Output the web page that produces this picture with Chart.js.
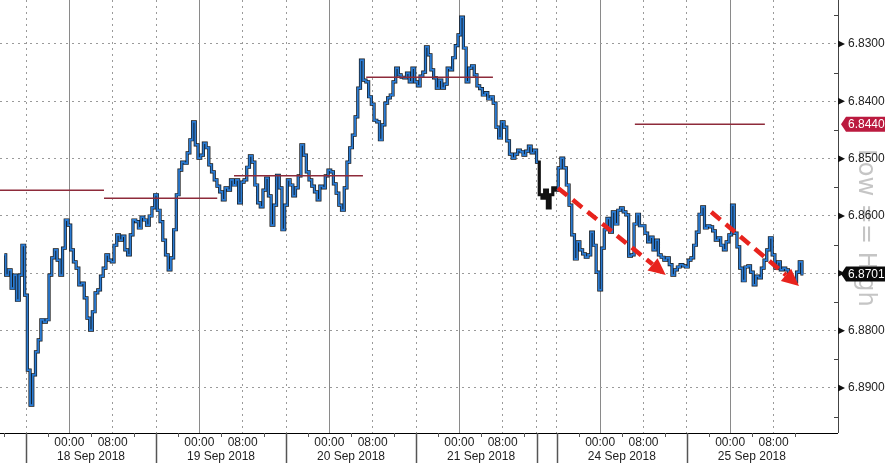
<!DOCTYPE html>
<html>
<head>
<meta charset="utf-8">
<script src="https://cdn.jsdelivr.net/npm/chart.js@4.4.0/dist/chart.umd.min.js"></script>
<style>
  html, body { margin: 0; padding: 0; background: #fff; }
</style>
</head>
<body>
<canvas id="myChart" width="890" height="468"></canvas>
<script>
// USD/CNH intraday, one price every 30 min of trading time
// x is hours of trading time, 0 = session open of 18 Sep (16:00 the day before)
const startHour = -4;
const stepHours = 0.5;
const prices = [
  6.8668, 6.8703, 6.8694, 6.8726, 6.8703, 6.8747, 6.8703, 6.8651, 6.8738, 6.8869,
  6.8930, 6.8877, 6.8837, 6.8816, 6.8781, 6.8785, 6.8781, 6.8703, 6.8673, 6.8659,
  6.8677, 6.8703, 6.8656, 6.8607, 6.8616, 6.8659, 6.8680, 6.8691, 6.8720, 6.8717,
  6.8743, 6.8778, 6.8799, 6.8767, 6.8734, 6.8729, 6.8705, 6.8691, 6.8668, 6.8677,
  6.8680, 6.8651, 6.8633, 6.8642, 6.8635, 6.8659, 6.8668, 6.8633, 6.8607, 6.8610,
  6.8621, 6.8602, 6.8607, 6.8616, 6.8600, 6.8586, 6.8563, 6.8590, 6.8610, 6.8642,
  6.8668, 6.8694, 6.8673, 6.8624, 6.8563, 6.8520, 6.8506, 6.8508, 6.8490, 6.8467,
  6.8436, 6.8476, 6.8499, 6.8494, 6.8473, 6.8481, 6.8511, 6.8523, 6.8537, 6.8548,
  6.8558, 6.8572, 6.8551, 6.8555, 6.8537, 6.8546, 6.8537, 6.8577, 6.8541, 6.8537,
  6.8515, 6.8495, 6.8506, 6.8546, 6.8577, 6.8584, 6.8555, 6.8534, 6.8565, 6.8616,
  6.8581, 6.8529, 6.8551, 6.8624, 6.8581, 6.8537, 6.8546, 6.8565, 6.8551, 6.8530,
  6.8476, 6.8494, 6.8523, 6.8537, 6.8548, 6.8558, 6.8572, 6.8548, 6.8551, 6.8530,
  6.8520, 6.8523, 6.8544, 6.8560, 6.8581, 6.8590, 6.8551, 6.8506, 6.8481, 6.8459,
  6.8427, 6.8377, 6.8328, 6.8363, 6.8366, 6.8392, 6.8405, 6.8433, 6.8436, 6.8467,
  6.8441, 6.8403, 6.8394, 6.8389, 6.8366, 6.8342, 6.8354, 6.8358, 6.8359, 6.8351,
  6.8366, 6.8342, 6.8366, 6.8373, 6.8356, 6.8349, 6.8305, 6.8319, 6.8345, 6.8359,
  6.8377, 6.8363, 6.8377, 6.8370, 6.8342, 6.8345, 6.8324, 6.8303, 6.8284, 6.8253,
  6.8307, 6.8366, 6.8342, 6.8338, 6.8354, 6.8373, 6.8378, 6.8389, 6.8385, 6.8396,
  6.8392, 6.8403, 6.8445, 6.8464, 6.8436, 6.8445, 6.8469, 6.8492, 6.8499, 6.8492,
  6.8485, 6.8488, 6.8494, 6.8487, 6.8478, 6.8490, 6.8485, 6.8506, 6.8563, 6.8569,
  6.8555, 6.8586, 6.8563, 6.8551, 6.8555, 6.8516, 6.8499, 6.8516, 6.8546, 6.8581,
  6.8633, 6.8675, 6.8645, 6.8659, 6.8666, 6.8672, 6.8668, 6.8628, 6.8651, 6.8698,
  6.8729, 6.8656, 6.8624, 6.8604, 6.8628, 6.8593, 6.8614, 6.8590, 6.8586, 6.8593,
  6.8598, 6.8670, 6.8668, 6.8614, 6.8597, 6.8617, 6.8617, 6.8630, 6.8645, 6.8637,
  6.8659, 6.8642, 6.8668, 6.8672, 6.8677, 6.8673, 6.8685, 6.8703, 6.8694, 6.8689,
  6.8685, 6.8687, 6.8689, 6.8677, 6.8673, 6.8651, 6.8628, 6.8597, 6.8584, 6.8621,
  6.8617, 6.8619, 6.8626, 6.8642, 6.8638, 6.8651, 6.8659, 6.8645, 6.8633, 6.8581,
  6.8630, 6.8654, 6.8691, 6.8713, 6.8689, 6.8687, 6.8698, 6.8720, 6.8705, 6.8708,
  6.8691, 6.8677, 6.8659, 6.8638, 6.8668, 6.8691, 6.8680, 6.8694, 6.8691, 6.8694,
  6.8706, 6.8710, 6.8715, 6.8698, 6.8680, 6.8701
];

const dayLabels = ['18 Sep 2018', '19 Sep 2018', '20 Sep 2018', '21 Sep 2018', '24 Sep 2018', '25 Sep 2018'];
const dayStarts = [0, 24, 48, 72, 98, 122];
const fridayClose = 94.3;

const yMajor = [6.83, 6.84, 6.85, 6.86, 6.87, 6.88, 6.89];
const yMinor = [6.825, 6.835, 6.845, 6.855, 6.865, 6.875, 6.885, 6.895];

// previous-session ranges (dark red lines)
const rangeFrom = [-4.8, 14.4, 38.4, 62.8, 112.4];
const rangeTo = [14.4, 35.3, 62.2, 86.2, 136.4];
const rangeLevel = [6.8555, 6.8569, 6.8530, 6.8358, 6.8440];

// red dashed trend arrows
const arrowX0 = [98.2, 126.5];
const arrowY0 = [6.8551, 6.8593];
const arrowX1 = [118.1, 142.7];
const arrowY1 = [6.8703, 6.8722];

const markLevel = 6.8440;
const lastPrice = 6.8701;

// x tick table
const xTicks = [{ value: -4, kind: 'minor' }];
dayStarts.forEach((s, i) => {
  xTicks.push({ value: s, kind: 'sep' });
  xTicks.push({ value: s + 4, kind: 'minor' });
  xTicks.push({ value: s + 8, kind: 'h00', label: '00:00' });
  xTicks.push({ value: s + 12, kind: 'minor', label: ['', dayLabels[i]] });
  xTicks.push({ value: s + 16, kind: 'h08', label: '08:00' });
  xTicks.push({ value: s + 20, kind: 'minor' });
});
xTicks.push({ value: fridayClose, kind: 'sep' });
xTicks.sort((a, b) => a.value - b.value);

const yTicks = yMajor.concat(yMinor).sort((a, b) => a - b);
const isMajor = v => yMajor.some(m => Math.abs(m - v) < 1e-6);

const blue = '#2b7bd2';
const priceData = prices.map((p, i) => ({ x: startHour + i * stepHours, y: p }));

const font = { family: 'Liberation Sans', size: 12, lineHeight: 1.1667 };

const decor = {
  id: 'decor',
  beforeDraw(chart) {
    const { ctx, chartArea: a, scales: { y } } = chart;
    ctx.save();
    ctx.fillStyle = 'rgba(140,140,140,0.5)';
    ctx.font = '24px "DejaVu Sans"';
    ctx.translate(a.right + 21, y.getPixelForValue(6.8483));
    ctx.rotate(Math.PI / 2);
    ctx.textBaseline = 'alphabetic';
    ctx.fillText('Low == High', 0, 0);
    ctx.restore();
  },
  afterDraw(chart) {
    const { ctx, chartArea: a, scales: { x, y } } = chart;
    ctx.save();

    // ticks under the time axis
    ctx.strokeStyle = '#555';
    xTicks.forEach(t => {
      const px = Math.round(x.getPixelForValue(t.value)) + 0.5;
      if (t.kind === 'sep') {
        ctx.lineWidth = 1.5;
        ctx.beginPath(); ctx.moveTo(px, a.bottom); ctx.lineTo(px, a.bottom + 30); ctx.stroke();
      } else if (t.kind === 'minor') {
        ctx.lineWidth = 1;
        ctx.beginPath(); ctx.moveTo(px, a.bottom); ctx.lineTo(px, a.bottom + 4); ctx.stroke();
      }
    });

    // price axis markers
    ctx.fillStyle = '#111';
    yMajor.forEach(v => {
      const py = y.getPixelForValue(v);
      ctx.beginPath();
      ctx.moveTo(a.right, py - 3.5); ctx.lineTo(a.right + 7, py); ctx.lineTo(a.right, py + 3.5);
      ctx.closePath(); ctx.fill();
    });
    ctx.strokeStyle = '#444';
    ctx.lineWidth = 1;
    yMinor.forEach(v => {
      const py = Math.round(y.getPixelForValue(v)) + 0.5;
      ctx.beginPath(); ctx.moveTo(a.right - 4, py); ctx.lineTo(a.right, py); ctx.stroke();
    });

    // dashed arrows
    arrowX0.forEach((_, i) => {
      const x0 = x.getPixelForValue(arrowX0[i]), y0 = y.getPixelForValue(arrowY0[i]);
      const x1 = x.getPixelForValue(arrowX1[i]), y1 = y.getPixelForValue(arrowY1[i]);
      const ang = Math.atan2(y1 - y0, x1 - x0);
      const head = 17;
      const bx = x1 - head * Math.cos(ang), by = y1 - head * Math.sin(ang);
      ctx.strokeStyle = '#e8231d';
      ctx.fillStyle = '#e8231d';
      ctx.lineWidth = 4.5;
      ctx.setLineDash([12, 7]);
      ctx.beginPath(); ctx.moveTo(x0, y0); ctx.lineTo(bx, by); ctx.stroke();
      ctx.setLineDash([]);
      const nx = -Math.sin(ang) * 8, ny = Math.cos(ang) * 8;
      ctx.beginPath();
      ctx.moveTo(x1, y1); ctx.lineTo(bx + nx, by + ny); ctx.lineTo(bx - nx, by - ny);
      ctx.closePath(); ctx.fill();
    });

    // value tags on the price axis
    const tag = (v, bg) => {
      const py = y.getPixelForValue(v);
      const l = a.right + 3, r = a.right + 47, h = 15;
      ctx.fillStyle = bg;
      ctx.beginPath();
      ctx.moveTo(l, py); ctx.lineTo(l + 5, py - h / 2); ctx.lineTo(r, py - h / 2);
      ctx.lineTo(r, py + h / 2); ctx.lineTo(l + 5, py + h / 2); ctx.closePath(); ctx.fill();
      ctx.fillStyle = '#fff';
      ctx.font = '12px "Liberation Sans"';
      ctx.textAlign = 'left';
      ctx.textBaseline = 'middle';
      ctx.fillText(v.toFixed(4), l + 7, py + 0.5);
    };
    tag(markLevel, '#bb1a3f');
    tag(lastPrice, '#0a0a0a');

    ctx.restore();
  }
};

const data = {
  datasets: [
    ...rangeLevel.map((lv, i) => ({
      data: [{ x: rangeFrom[i], y: lv }, { x: rangeTo[i], y: lv }],
      borderColor: '#8e2b3a',
      borderWidth: 1.5,
      pointRadius: 0,
    })),
    {
      data: priceData,
      borderColor: blue,
      borderWidth: 1.8,
      pointRadius: 0,
      stepped: 'middle',
      segment: {
        borderColor: c => (c.p0.parsed.x >= fridayClose && c.p1.parsed.x <= dayStarts[4] + 0.1) ? '#111' : blue,
      },
    },
    {
      data: priceData,
      borderColor: '#151515',
      borderWidth: 3.2,
      pointRadius: 0,
      stepped: 'middle',
    },
  ]
};

const config = {
  type: 'line',
  data: data,
  options: {
    responsive: false,
    animation: false,
    layout: { padding: 0 },
    plugins: {
      legend: { display: false },
      tooltip: { enabled: false },
    },
    scales: {
      x: {
        type: 'linear',
        min: -4.8,
        max: 149.9,
        afterFit(s) { s.height = 35; s.paddingLeft = 0; s.paddingRight = 0; },
        afterBuildTicks(s) { s.ticks = xTicks.map(t => ({ value: t.value })); },
        ticks: {
          autoSkip: false,
          maxRotation: 0,
          minRotation: 0,
          padding: 3,
          color: '#222',
          font: font,
          callback: (v, i) => xTicks[i].label || '',
        },
        grid: {
          drawTicks: false,
          color: c => {
            const k = xTicks[c.index] ? xTicks[c.index].kind : 'minor';
            return k === 'h00' ? '#8a8a8a' : '#9a9a9a';
          },
          lineWidth: c => {
            const k = xTicks[c.index] ? xTicks[c.index].kind : 'minor';
            return k === 'minor' ? 0 : 1;
          },
        },
        border: {
          color: '#000',
          width: 1,
          dash: c => {
            if (!c.tick) return [];
            const k = xTicks[c.index] ? xTicks[c.index].kind : 'minor';
            return k === 'h00' ? [] : [2, 4];
          },
        },
      },
      y: {
        position: 'right',
        reverse: true,
        min: 6.82233,
        max: 6.89785,
        afterFit(s) { s.width = 52; s.paddingTop = 0; s.paddingBottom = 0; },
        afterBuildTicks(s) { s.ticks = yTicks.map(v => ({ value: v })); },
        ticks: {
          autoSkip: false,
          padding: 10,
          color: '#222',
          font: font,
          callback: v => isMajor(v) ? v.toFixed(4) : '',
        },
        grid: {
          drawTicks: false,
          color: '#9a9a9a',
          lineWidth: c => (c.tick && isMajor(c.tick.value)) ? 1 : 0,
        },
        border: {
          color: '#444',
          width: 1,
          dash: c => c.tick ? [2, 4] : [],
        },
      },
    }
  },
  plugins: [decor],
};

var myChart = new Chart(document.getElementById('myChart'), config);
</script>
</body>
</html>
